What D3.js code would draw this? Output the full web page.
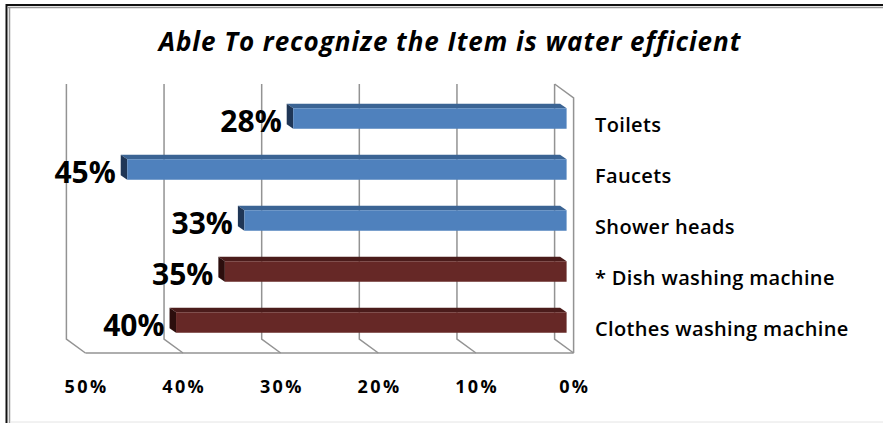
<!DOCTYPE html>
<html>
<head>
<meta charset="utf-8">
<script src="https://cdn.jsdelivr.net/npm/d3@7"></script>
<style>
  html, body { margin: 0; padding: 0; background: #fff; }
  svg { display: block; }
</style>
</head>
<body>
<script>
// Share of respondents able to recognise each item as water efficient
const categories = ["Toilets", "Faucets", "Shower heads", "* Dish washing machine", "Clothes washing machine"];
const values = [28, 45, 33, 35, 40];
const groups = ["fixture", "fixture", "fixture", "appliance", "appliance"];
const tickValues = [50, 40, 30, 20, 10, 0];
const tickLabels = ["50%", "40%", "30%", "20%", "10%", "0%"];
const title = "Able To recognize the Item is water efficient";

const W = 883, H = 423;
const svg = d3.select("body").append("svg").attr("width", W).attr("height", H);

// Frame around the chart area
svg.append("line").attr("x1", 6).attr("y1", 5).attr("x2", W).attr("y2", 5).attr("stroke", "#111").attr("stroke-width", 2);
svg.append("line").attr("x1", 8).attr("y1", 7.5).attr("x2", W).attr("y2", 7.5).attr("stroke", "#999").attr("stroke-width", 1.5);
svg.append("line").attr("x1", 6.5).attr("y1", 4).attr("x2", 6.5).attr("y2", H).attr("stroke", "#111").attr("stroke-width", 2);
svg.append("line").attr("x1", 9.5).attr("y1", 7).attr("x2", 9.5).attr("y2", H).attr("stroke", "#999").attr("stroke-width", 1.5);
svg.append("line").attr("x1", 10).attr("y1", 422).attr("x2", W).attr("y2", 422).attr("stroke", "#e4e4e4").attr("stroke-width", 1);

// Title
svg.append("text")
  .attr("x", 450).attr("y", 51)
  .attr("text-anchor", "middle")
  .attr("font-family", "'Open Sans', sans-serif")
  .attr("font-style", "italic").attr("font-weight", 700)
  .attr("font-size", 26)
  .attr("letter-spacing", 0.95)
  .attr("fill", "#000")
  .text(title);

// Scales on the back wall; the front plane is offset by the depth vector
const x = d3.scaleLinear().domain([0, 50]).range([554.6, 66.4]);
const y = d3.scaleBand().domain(categories).range([84, 339]);
const depth = { dx: 19, dy: 14 };
const barDepth = { dx: 6.5, dy: 4.5 };
const barFront = { dx: 12, dy: 9 };
const barH = 20.5;

const palette = d3.scaleOrdinal().domain(["fixture", "appliance"])
  .range([
    { front: "#4f81bd", top: "#3b6494", cap: "#1f3656" },
    { front: "#662826", top: "#4b1c1b", cap: "#2c0e0d" }
  ]);

const grid = svg.append("g").attr("stroke", "#939393").attr("stroke-width", 1.5).attr("fill", "none");
const [y0, y1] = y.range();

// Back-wall gridlines and floor diagonals
tickValues.forEach(t => {
  const gx = x(t);
  grid.append("path").attr("d", `M${gx},${y0}V${y1}L${gx + depth.dx},${y1 + depth.dy}`);
});
// Front edge of the floor
grid.append("path").attr("d", `M${x(50) + depth.dx},${y1 + depth.dy}H${x(0) + depth.dx}`);
// Side wall at zero
grid.append("path").attr("d", `M${x(0)},${y0}L${x(0) + depth.dx},${y0 + depth.dy}V${y1 + depth.dy}`);

// 3D bars
const bars = svg.append("g");
categories.forEach((c, i) => {
  const col = palette(groups[i]);
  const yc = y(c) + y.bandwidth() / 2 + barFront.dy;
  const yt = yc - barH / 2, yb = yc + barH / 2;
  const xa = x(values[i]) + barFront.dx;
  const xb = x(0) + barFront.dx;
  const g = bars.append("g");
  g.append("path")
    .attr("d", `M${xa},${yt}L${xb},${yt}L${xb - barDepth.dx},${yt - barDepth.dy}L${xa - barDepth.dx},${yt - barDepth.dy}Z`)
    .attr("fill", col.top);
  g.append("path")
    .attr("d", `M${xa},${yt}L${xa},${yb}L${xa - barDepth.dx},${yb - barDepth.dy}L${xa - barDepth.dx},${yt - barDepth.dy}Z`)
    .attr("fill", col.cap);
  g.append("rect")
    .attr("x", xa).attr("y", yt).attr("width", xb - xa).attr("height", barH)
    .attr("fill", col.front);

  // Value label
  svg.append("text")
    .attr("x", xa - barDepth.dx - 5).attr("y", yb + 3.5)
    .attr("text-anchor", "end")
    .attr("font-family", "'Open Sans', sans-serif")
    .attr("font-weight", 700).attr("font-size", 30)
    .attr("fill", "#000")
    .text(values[i] + "%");

  // Category label
  svg.append("text")
    .attr("x", 595).attr("y", yb + 3)
    .attr("font-family", "'Open Sans', sans-serif")
    .attr("font-weight", 600).attr("font-size", 20)
    .attr("letter-spacing", 0.35)
    .attr("fill", "#000")
    .text(c);
});

// Axis tick labels along the front edge
tickValues.forEach((t, i) => {
  svg.append("text")
    .attr("x", x(t) + depth.dx + 1.2).attr("y", 393)
    .attr("text-anchor", "middle")
    .attr("font-family", "'Open Sans', sans-serif")
    .attr("font-weight", 700).attr("font-size", 18)
    .attr("letter-spacing", 2.4)
    .attr("fill", "#000")
    .text(tickLabels[i]);
});
</script>
</body>
</html>
